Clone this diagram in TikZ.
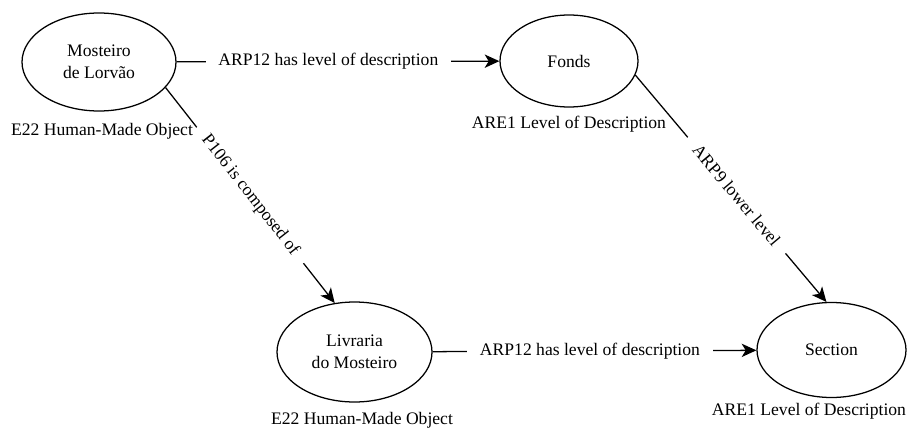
\documentclass[tikz,border=0pt]{standalone}
\usepackage{fontspec}
\setmainfont{Liberation Serif}
\usetikzlibrary{shapes.geometric,arrows.meta}

\begin{document}
\begin{tikzpicture}[x=0.75pt,y=0.75pt,yscale=-1,xscale=1,
  entity/.style={draw,ellipse,line width=0.95pt,inner sep=0pt,align=center,font=\fontsize{13.2}{16.5}\selectfont},
  rel/.style={draw,line width=0.95pt,-{Stealth[length=11pt,width=10pt,inset=3pt]}},
  rellabel/.style={fill=white,inner xsep=9.5pt,inner ysep=1pt,font=\fontsize{13.2}{16.5}\selectfont},
  classlabel/.style={anchor=base,inner sep=0pt,font=\fontsize{13.2}{16.5}\selectfont}]
\useasboundingbox (0,0) rectangle (907,428);

%Shape: Ellipse [id:mosteiro]
\node[entity,minimum width=115.5pt,minimum height=73.5pt] (mosteiro) at (99,62) {Mosteiro\\de Lorvão};
%Shape: Ellipse [id:fonds]
\node[entity,minimum width=103.5pt,minimum height=69pt] (fonds) at (569,61) {Fonds};
%Shape: Ellipse [id:livraria]
\node[entity,minimum width=116.25pt,minimum height=75pt] (livraria) at (354.5,352) {Livraria\\do Mosteiro};
%Shape: Ellipse [id:section]
\node[entity,minimum width=111.75pt,minimum height=71.25pt] (section) at (831.5,350) {Section};

%Straight Lines [id:mosteiro-fonds]
\draw[rel] (mosteiro) -- node[rellabel,pos=0.47] {ARP12 has level of description} (fonds);
%Straight Lines [id:mosteiro-livraria]
\draw[rel] (mosteiro.-21) -- node[rellabel,rotate=-52,pos=0.5] {P106 is composed of} (livraria.112);
%Straight Lines [id:fonds-section]
\draw[rel] (fonds.-12) -- node[rellabel,rotate=-50,pos=0.53] {ARP9 lower level} (section.96);
%Straight Lines [id:livraria-section]
\draw[rel] (livraria) -- node[rellabel,pos=0.486] {ARP12 has level of description} (section);

% Text Node
\node[classlabel] (mosteirocls) at (102,135) {E22 Human-Made Object};
% Text Node
\node[classlabel] (fondscls) at (569,128) {ARE1 Level of Description};
% Text Node
\node[classlabel] (livrariacls) at (362,424) {E22 Human-Made Object};
% Text Node
\node[classlabel] (sectioncls) at (809,415) {ARE1 Level of Description};
\end{tikzpicture}
\end{document}
